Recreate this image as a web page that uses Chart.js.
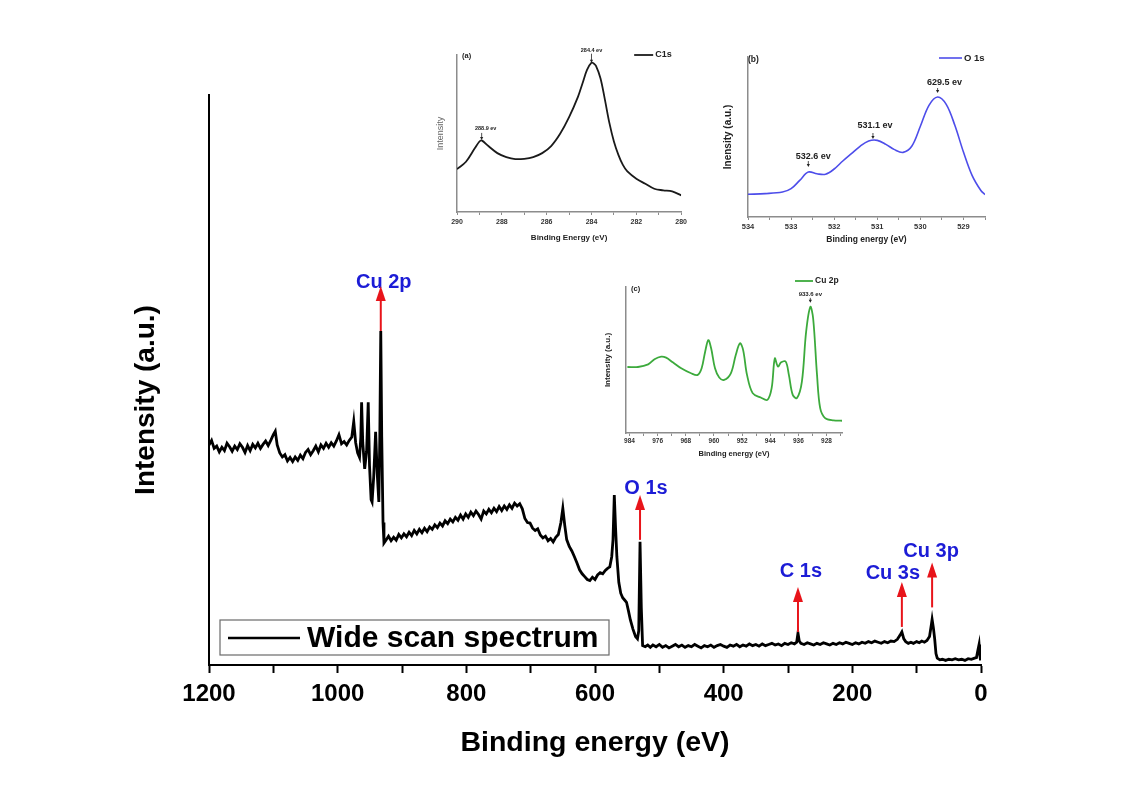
<!DOCTYPE html>
<html>
<head>
<meta charset="utf-8">
<title>XPS survey</title>
<script src="https://cdn.jsdelivr.net/npm/chart.js@4.4.1/dist/chart.umd.min.js"></script>
<style>
  html, body { margin: 0; padding: 0; background: #fff; }
  #wrap { position: relative; width: 1125px; height: 793px; }
  #wrap canvas { position: absolute; }
</style>
</head>
<body>
<div id="wrap">
  <canvas id="survey" width="1125" height="793" style="left:0;top:0"></canvas>
  <canvas id="insetA" width="275" height="210" style="left:415px;top:40px"></canvas>
  <canvas id="insetB" width="290" height="210" style="left:705px;top:40px"></canvas>
  <canvas id="insetC" width="265" height="195" style="left:585px;top:270px"></canvas>
</div>
<script>
// wide scan spectrum (binding energy in eV, intensity in a.u.)
const surveyEnergy = [
  1200, 1196, 1192, 1188, 1184, 1180, 1176, 1172, 1168, 1164,
  1160, 1156, 1152, 1148, 1144, 1140, 1136, 1132, 1128, 1124,
  1120, 1116, 1112, 1108, 1104, 1100, 1097, 1094, 1090, 1086,
  1082, 1078, 1074, 1070, 1066, 1062, 1058, 1054, 1050, 1046,
  1042, 1038, 1034, 1030, 1026, 1022, 1018, 1014, 1010, 1006,
  1002, 998, 994, 990, 986, 982, 978, 975, 972, 969,
  966, 964, 962.8, 961, 958, 955, 952.5, 950.5, 948, 946.5,
  944, 941, 938.5, 936, 934.5, 933, 931.5, 929.5, 928, 925,
  921, 917, 913, 909, 905, 901, 897, 893, 889, 885,
  881, 877, 873, 869, 865, 861, 857, 853, 849, 845,
  841, 837, 833, 829, 825, 821, 817, 813, 809, 805,
  801, 797, 793, 789, 785, 781, 777, 773, 769, 765,
  761, 757, 753, 749, 745, 741, 737, 733, 729, 725,
  721, 717, 713, 709, 705, 701, 697, 693, 689, 685,
  681, 677, 673, 669, 665, 661, 657, 653, 650, 647,
  644, 640, 636, 632, 628, 624, 620, 616, 612, 608,
  604, 600, 596, 592, 588, 584, 580, 577, 574, 572,
  570, 568, 566, 563, 560, 557, 554, 551, 548, 545,
  541, 537, 534, 532, 530, 528, 526, 522, 518, 514,
  510, 505, 500, 495, 490, 485, 480, 475, 470, 465,
  460, 455, 450, 445, 440, 435, 430, 425, 420, 415,
  410, 405, 400, 395, 390, 385, 380, 375, 370, 365,
  360, 355, 350, 345, 340, 335, 330, 325, 320, 315,
  310, 305, 300, 295, 290, 286.5, 284.5, 282.5, 280, 275,
  270, 265, 260, 255, 250, 245, 240, 235, 230, 225,
  220, 215, 210, 205, 200, 195, 190, 185, 180, 175,
  170, 165, 160, 155, 150, 145, 140, 135, 130, 126,
  123, 120, 117, 113, 109, 105, 100, 96, 92, 88,
  84, 80, 77, 76, 74, 72, 70, 68, 64, 60,
  55, 50, 45, 40, 35, 30, 25, 20, 15, 10,
  7, 5, 3, 2, 1, 0
];
const surveyIntensity = [
  38.6, 39.4, 38.0, 38.4, 37.4, 38.2, 37.6, 38.9, 38.3, 37.5,
  38.4, 37.8, 38.8, 38.2, 37.3, 38.5, 37.6, 38.7, 38.1, 38.9,
  38.0, 38.7, 39.3, 38.5, 39.4, 40.4, 41.0, 38.6, 37.2, 36.5,
  36.9, 35.8, 36.4, 35.7, 36.5, 35.9, 36.8, 36.2, 37.3, 37.8,
  36.9, 37.6, 38.4, 37.4, 38.6, 38.0, 38.9, 38.2, 39.0, 38.4,
  39.3, 40.4, 38.8, 39.2, 38.6, 39.4, 40.0, 42.7, 39.0, 37.2,
  36.4, 40.0, 46.1, 39.0, 34.4, 37.5, 46.1, 35.0, 29.0, 28.6,
  33.0, 40.9, 33.5, 28.6, 40.0, 58.6, 40.0, 25.0, 21.4, 21.9,
  22.6, 21.8, 22.4, 21.9, 22.9, 22.3, 23.0, 22.5, 23.3, 22.7,
  23.6, 23.0, 23.8, 23.2, 24.0, 23.4, 24.2, 23.8, 24.6, 24.1,
  24.9, 24.4, 25.3, 24.8, 25.6, 25.1, 25.9, 25.4, 26.3, 25.6,
  26.5, 25.9, 26.8, 26.2, 27.0, 26.4, 25.6, 27.0, 26.5, 27.3,
  26.7, 27.5, 26.9, 27.8, 27.1, 27.9, 27.3, 28.1, 27.5, 28.4,
  27.9, 28.3, 27.4, 25.7, 25.0, 24.9, 24.0, 23.6, 23.9, 22.8,
  22.3, 22.6, 21.8, 22.2, 21.6, 22.4, 22.9, 25.0, 27.5, 24.5,
  22.0, 20.8, 20.0, 19.0, 17.9, 16.7, 16.0, 15.5, 15.0, 14.8,
  15.4, 15.0, 15.8, 16.2, 16.0, 16.6, 17.0, 17.2, 19.0, 22.0,
  29.8, 24.0, 19.0, 14.5, 12.6, 11.8, 11.4, 11.0, 9.5, 7.9,
  6.3, 5.0, 4.6, 6.0, 21.6, 10.0, 3.4, 3.2, 3.5, 3.1,
  3.5, 3.2, 3.6, 3.1, 3.4, 3.0, 3.3, 3.6, 3.2, 3.5,
  3.1, 3.4, 3.2, 3.6, 3.3, 3.0, 3.4, 3.2, 3.5, 3.1,
  3.4, 3.6, 3.3, 3.1, 3.5, 3.3, 3.6, 3.2, 3.5, 3.3,
  3.7, 3.4, 3.6, 3.3, 3.7, 3.4, 3.6, 3.8, 3.5, 3.7,
  3.4, 3.8, 3.6, 3.9, 3.7, 4.0, 5.6, 4.2, 3.8, 3.6,
  3.9, 3.7, 3.5, 3.8, 3.6, 3.9, 3.7, 3.5, 3.8, 3.6,
  3.9, 3.7, 4.0, 3.8, 3.6, 3.9, 3.7, 4.0, 3.8, 4.1,
  3.9, 4.2, 4.0, 3.8, 4.1, 3.9, 4.2, 4.1, 4.5, 5.2,
  5.8, 4.6, 4.1, 3.8, 4.0, 3.8, 4.1, 3.9, 4.2, 4.0,
  4.3, 5.0, 7.2, 8.0, 6.5, 4.6, 2.0, 1.2, 0.9, 1.0,
  0.8, 1.0, 0.9, 1.1, 0.9, 1.0, 0.8, 1.1, 1.0, 1.2,
  1.3, 2.5, 3.6, 2.0, 1.0, 0.9
];
const surveyPeakName = ['Cu 2p', 'O 1s', 'C 1s', 'Cu 3s', 'Cu 3p'];
const surveyPeakEnergy = [933, 530, 284.5, 123, 76];

// (a) C1s
const c1sEnergy = [290.0, 289.6, 289.2, 289.0, 288.9, 288.6, 288.2, 287.8, 287.4, 287.0,
  286.6, 286.2, 285.8, 285.4, 285.0, 284.6, 284.4, 284.2, 284.0, 283.9,
  283.8, 283.6, 283.4, 283.2, 283.0, 282.8, 282.6, 282.4, 282.0, 281.6,
  281.2, 280.8, 280.4, 280.0];
const c1sIntensity = [27.3, 32.0, 40.7, 44.9, 45.6, 42.0, 37.5, 35.0, 33.7, 33.9,
  35.0, 37.5, 42.0, 49.8, 60.4, 73.5, 82.0, 90.5, 95.1, 94.6,
  93.0, 85.2, 71.4, 56.6, 44.9, 36.4, 30.0, 25.8, 21.2, 18.0,
  14.8, 13.8, 13.1, 10.6];
const c1sPeakEnergy = [284.0, 288.9];
const c1sPeakText = ['284.4 ev', '288.9 ev'];

// (b) O 1s
const o1sEnergy = [534.0, 533.6, 533.2, 533.0, 532.8, 532.6, 532.4, 532.2, 532.0, 531.8,
  531.6, 531.4, 531.2, 531.0, 530.8, 530.6, 530.4, 530.2, 530.0, 529.8,
  529.6, 529.4, 529.2, 529.0, 528.8, 528.6, 528.5];
const o1sIntensity = [14.2, 14.6, 15.6, 17.7, 22.9, 28.1, 27.0, 26.7, 30.0, 35.0,
  39.6, 44.2, 47.5, 47.9, 45.4, 42.1, 40.4, 44.2, 56.7, 69.8,
  75.0, 70.4, 57.3, 40.6, 26.0, 16.7, 14.0];
const o1sPeakEnergy = [532.6, 531.1, 529.6];
const o1sPeakText = ['532.6 ev', '531.1 ev', '629.5 ev'];

// (c) Cu 2p
const cu2pEnergy = [984.6, 981.6, 978.7, 976.9, 975.0, 973.6, 971.7, 969.3, 966.5, 964.6,
  963.5, 962.5, 961.6, 960.8, 959.7, 958.5, 957.1, 955.2, 953.8, 952.6,
  951.7, 950.6, 949.0, 946.7, 944.8, 943.6, 942.7, 941.8, 940.9, 939.6,
  938.7, 937.6, 936.4, 935.0, 933.8, 932.6, 931.8, 930.7, 929.8, 928.4,
  926.0, 923.6];
const cu2pIntensity = [45.2, 45.2, 47.0, 50.5, 52.3, 51.6, 48.4, 44.3, 40.9, 39.8,
  44.3, 55.7, 63.6, 58.0, 44.3, 38.0, 36.4, 40.9, 53.4, 61.4,
  56.8, 39.8, 27.3, 24.3, 22.7, 30.7, 51.1, 45.5, 48.4, 48.9,
  39.8, 26.1, 23.9, 35.2, 69.3, 86.4, 78.4, 39.8, 17.0, 10.2,
  8.6, 8.4];
const cu2pPeakEnergy = [932.6];
const cu2pPeakText = ['933.6 ev'];

const SANS = "'Liberation Sans', Arial, sans-serif";
const RED = '#e8141a';
const BLUE = '#1c1cd6';
const AXIS_GRAY = '#8c8c8c';

// label placement for the survey arrows (style only)
const arrowGap = [0, 2, 1, 5, 12];
const labelShift = [[3, 2], [6, -1], [3, -10], [-9, -3], [-1, -5]];

function valueAt(energy, intensity, ev) {
  let best = 0;
  energy.forEach((e, i) => { if (Math.abs(e - ev) < Math.abs(energy[best] - ev)) best = i; });
  return intensity[best];
}

function isMultiple(v, step) {
  const r = v / step;
  return Math.abs(r - Math.round(r)) < 1e-6;
}

function toPoints(energy, intensity) {
  return energy.map((e, i) => ({ x: e, y: intensity[i] }));
}

const surveyMarks = {
  id: 'surveyMarks',
  afterDatasetsDraw(chart) {
    const { ctx, chartArea: a, scales: { x, y } } = chart;
    ctx.save();
    surveyPeakName.forEach((name, i) => {
      const px = x.getPixelForValue(surveyPeakEnergy[i]);
      const tail = y.getPixelForValue(valueAt(surveyEnergy, surveyIntensity, surveyPeakEnergy[i])) - arrowGap[i];
      const tip = tail - 45;
      ctx.fillStyle = BLUE;
      ctx.font = 'bold 20px ' + SANS;
      ctx.textAlign = 'center';
      ctx.textBaseline = 'alphabetic';
      ctx.fillText(name, px + labelShift[i][0], tip + labelShift[i][1]);
      ctx.strokeStyle = RED;
      ctx.lineWidth = 2;
      ctx.beginPath();
      ctx.moveTo(px, tail);
      ctx.lineTo(px, tip + 10);
      ctx.stroke();
      ctx.fillStyle = RED;
      ctx.beginPath();
      ctx.moveTo(px, tip);
      ctx.lineTo(px - 5, tip + 15);
      ctx.lineTo(px + 5, tip + 15);
      ctx.closePath();
      ctx.fill();
    });

    // legend box
    const ds = chart.data.datasets[0];
    const bx = a.left + 11, by = a.bottom - 45;
    ctx.strokeStyle = '#6a6a6a';
    ctx.lineWidth = 1.2;
    ctx.strokeRect(bx, by, 389, 35);
    ctx.strokeStyle = ds.borderColor;
    ctx.lineWidth = 2.5;
    ctx.beginPath();
    ctx.moveTo(bx + 8, by + 18);
    ctx.lineTo(bx + 80, by + 18);
    ctx.stroke();
    ctx.fillStyle = '#000';
    ctx.font = 'bold 30px ' + SANS;
    ctx.textAlign = 'left';
    ctx.textBaseline = 'middle';
    ctx.fillText(ds.label, bx + 87, by + 19);

    // y axis title
    ctx.translate(a.left - 63, (a.top + a.bottom) / 2 + 20);
    ctx.rotate(-Math.PI / 2);
    ctx.textAlign = 'center';
    ctx.font = 'bold 28px ' + SANS;
    ctx.fillText('Intensity (a.u.)', 0, 0);
    ctx.restore();
  }
};

new Chart(document.getElementById('survey'), {
  type: 'line',
  data: {
    datasets: [{
      label: 'Wide scan spectrum',
      data: toPoints(surveyEnergy, surveyIntensity),
      borderColor: '#000',
      borderWidth: 2.8,
      pointRadius: 0,
      tension: 0,
      fill: false
    }]
  },
  options: {
    responsive: false,
    animation: false,
    events: [],
    layout: { padding: { top: 95, right: 144, left: 0, bottom: 0 } },
    plugins: { legend: { display: false }, tooltip: { enabled: false } },
    scales: {
      x: {
        type: 'linear',
        reverse: true,
        min: 0,
        max: 1200,
        afterFit: s => { s.height = 128; },
        border: { color: '#000', width: 2 },
        grid: { drawOnChartArea: false, tickLength: 8, tickWidth: 2, tickColor: '#000' },
        ticks: {
          stepSize: 100,
          autoSkip: false,
          maxRotation: 0,
          padding: 7,
          color: '#000',
          font: { family: SANS, size: 24, weight: 'bold' },
          callback: v => isMultiple(v, 200) ? String(v) : ''
        },
        title: {
          display: true,
          text: 'Binding energy (eV)',
          color: '#000',
          font: { family: SANS, size: 28.5, weight: 'bold' },
          padding: { top: 0, bottom: 33 }
        }
      },
      y: {
        min: 0,
        max: 100,
        afterFit: s => { s.width = 209; },
        border: { color: '#000', width: 2 },
        grid: { display: false },
        ticks: { display: false }
      }
    }
  },
  plugins: [surveyMarks]
});

// insets
const insetMarks = {
  id: 'insetMarks',
  afterDatasetsDraw(chart, args, o) {
    const { ctx, chartArea: a, scales: { x, y } } = chart;
    const ds = chart.data.datasets[0];
    ctx.save();
    ctx.fillStyle = '#222';
    ctx.textBaseline = 'middle';
    ctx.textAlign = 'left';
    ctx.font = 'bold ' + o.panelSize + 'px ' + SANS;
    ctx.fillText(o.panel, a.left + o.panelPos[0], a.top + o.panelPos[1]);

    const lx = a.right - o.legendPos[0], ly = a.top + o.legendPos[1];
    ctx.strokeStyle = ds.borderColor;
    ctx.lineWidth = ds.borderWidth;
    ctx.beginPath();
    ctx.moveTo(lx, ly);
    ctx.lineTo(lx + o.legendLen, ly);
    ctx.stroke();
    ctx.font = 'bold ' + o.legendSize + 'px ' + SANS;
    ctx.fillText(ds.label, lx + o.legendLen + 2, ly);

    ctx.textAlign = 'center';
    ctx.font = 'bold ' + o.peakSize + 'px ' + SANS;
    o.peakEnergy.forEach((ev, i) => {
      const px = x.getPixelForValue(ev);
      const tip = y.getPixelForValue(valueAt(o.energy, o.intensity, ev)) - o.peakGap[i];
      const top = tip - o.peakLen[i];
      ctx.strokeStyle = '#222';
      ctx.lineWidth = 0.8;
      ctx.beginPath();
      ctx.moveTo(px, top);
      ctx.lineTo(px, tip - 2);
      ctx.stroke();
      ctx.fillStyle = '#222';
      ctx.beginPath();
      ctx.moveTo(px, tip);
      ctx.lineTo(px - 1.6, tip - 3);
      ctx.lineTo(px + 1.6, tip - 3);
      ctx.closePath();
      ctx.fill();
      ctx.fillText(o.peakText[i], px + o.peakDx[i], top - o.peakTextGap[i]);
    });
    ctx.restore();
  }
};

function makeInset(id, o) {
  return new Chart(document.getElementById(id), {
    type: 'line',
    data: {
      datasets: [{
        label: o.legend,
        data: toPoints(o.energy, o.intensity),
        borderColor: o.color,
        borderWidth: o.lineWidth,
        pointRadius: 0,
        tension: 0.35,
        fill: false
      }]
    },
    options: {
      responsive: false,
      animation: false,
      events: [],
      layout: { padding: { top: o.padTop, right: o.padRight, left: 0, bottom: 0 } },
      plugins: { legend: { display: false }, tooltip: { enabled: false }, insetMarks: o },
      scales: {
        x: {
          type: 'linear',
          reverse: true,
          min: o.xmin,
          max: o.xmax,
          afterFit: s => { s.height = o.xHeight; },
          border: { color: AXIS_GRAY, width: 1.5 },
          grid: { drawOnChartArea: false, tickLength: 3, tickWidth: 1, tickColor: AXIS_GRAY },
          ticks: {
            stepSize: o.step,
            includeBounds: false,
            autoSkip: false,
            maxRotation: 0,
            padding: o.tickPad,
            color: '#333',
            font: { family: SANS, size: o.tickSize, weight: 'bold' },
            callback: v => isMultiple(v, o.labelStep) ? String(Math.round(v)) : ''
          },
          title: {
            display: true,
            text: o.xTitle,
            color: '#222',
            font: { family: SANS, size: o.xTitleSize, weight: 'bold' },
            padding: { top: 0, bottom: o.xTitlePad }
          }
        },
        y: {
          min: 0,
          max: 100,
          afterFit: s => { s.width = o.yWidth; },
          border: { color: AXIS_GRAY, width: 1.5 },
          grid: { display: false },
          ticks: { display: false },
          title: {
            display: true,
            text: o.yTitle,
            color: o.yTitleColor,
            font: { family: SANS, size: o.yTitleSize, weight: o.yTitleWeight },
            padding: { top: o.yTitlePad, bottom: 0 }
          }
        }
      }
    },
    plugins: [insetMarks]
  });
}

makeInset('insetA', {
  energy: c1sEnergy, intensity: c1sIntensity, legend: 'C1s', color: '#1a1a1a', lineWidth: 1.8,
  xmin: 280, xmax: 290, step: 1, labelStep: 2,
  padTop: 15, padRight: 5, xHeight: 38, yWidth: 42,
  tickSize: 7, tickPad: 3, xTitle: 'Binding Energy (eV)', xTitleSize: 8, xTitlePad: 7.5,
  yTitle: 'Intensity', yTitleColor: '#666', yTitleSize: 9, yTitleWeight: 'normal', yTitlePad: 20,
  panel: '(a)', panelSize: 7.5, panelPos: [5, 1],
  legendPos: [47, 0], legendLen: 19, legendSize: 9,
  peakEnergy: c1sPeakEnergy, peakText: c1sPeakText, peakSize: 5.5,
  peakGap: [0, 0.5], peakLen: [9, 7], peakTextGap: [3, 4], peakDx: [0, 4]
});

makeInset('insetB', {
  energy: o1sEnergy, intensity: o1sIntensity, legend: 'O 1s', color: '#4d4dea', lineWidth: 1.6,
  xmin: 528.5, xmax: 534, step: 0.5, labelStep: 1,
  padTop: 17, padRight: 10, xHeight: 33, yWidth: 43,
  tickSize: 7.5, tickPad: 2, xTitle: 'Binding energy (eV)', xTitleSize: 8.5, xTitlePad: 5.4,
  yTitle: 'Inensity (a.u.)', yTitleColor: '#222', yTitleSize: 10, yTitleWeight: 'bold', yTitlePad: 17,
  panel: '(b)', panelSize: 8.5, panelPos: [0, 3],
  legendPos: [46, 1], legendLen: 23, legendSize: 9.5,
  peakEnergy: o1sPeakEnergy, peakText: o1sPeakText, peakSize: 9,
  peakGap: [5, 2, 4], peakLen: [6, 6, 5], peakTextGap: [5, 7, 5], peakDx: [5, 2, 7]
});

makeInset('insetC', {
  energy: cu2pEnergy, intensity: cu2pIntensity, legend: 'Cu 2p', color: '#3caa3c', lineWidth: 1.8,
  xmin: 923.6, xmax: 985, step: 4, labelStep: 8,
  padTop: 17, padRight: 8, xHeight: 32, yWidth: 41,
  tickSize: 6.5, tickPad: 1, xTitle: 'Binding energy (eV)', xTitleSize: 7.5, xTitlePad: 7,
  yTitle: 'Intensity (a.u.)', yTitleColor: '#222', yTitleSize: 8, yTitleWeight: 'bold', yTitlePad: 18,
  panel: '(c)', panelSize: 7.5, panelPos: [5, 2],
  legendPos: [47, -6], legendLen: 18, legendSize: 8.5,
  peakEnergy: cu2pPeakEnergy, peakText: cu2pPeakText, peakSize: 6,
  peakGap: [4], peakLen: [5], peakTextGap: [4], peakDx: [0]
});
</script>
</body>
</html>
